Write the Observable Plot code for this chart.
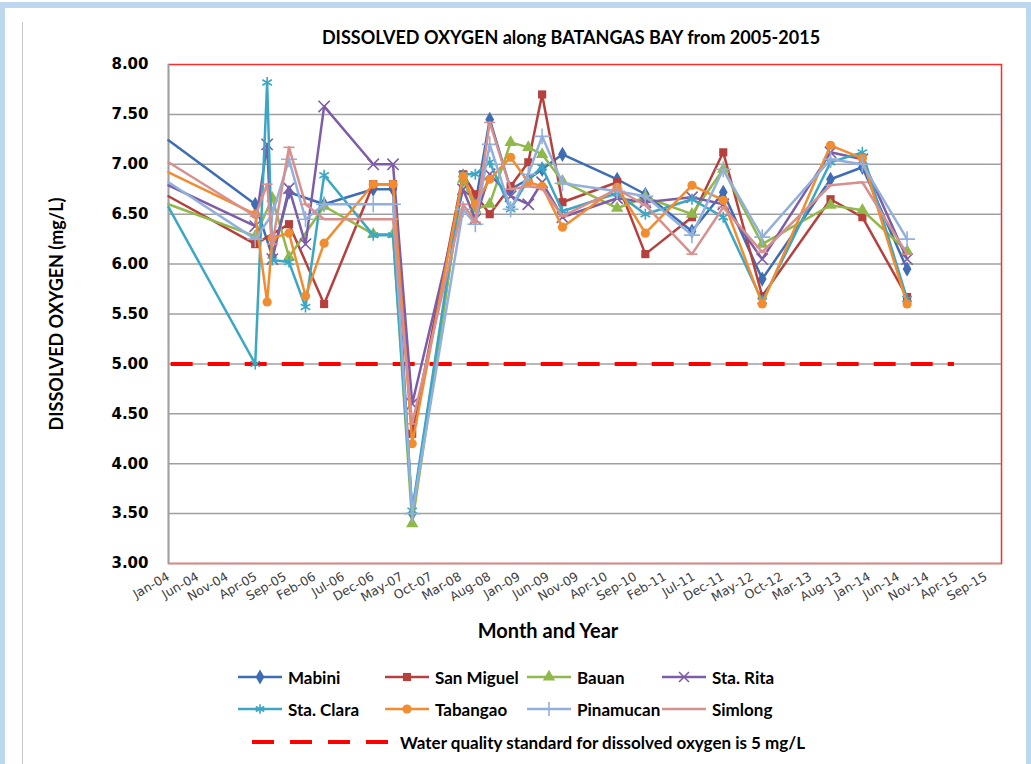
<!DOCTYPE html>
<html><head><meta charset="utf-8">
<script src="https://cdn.jsdelivr.net/npm/d3@7"></script>
<script src="https://cdn.jsdelivr.net/npm/@observablehq/plot@0.6"></script>
<style>
body{margin:0;background:#fff;}
#page{position:relative;width:1031px;height:764px;overflow:hidden;background:#fff;font-family:Lato,"Open Sans",sans-serif;}
.band{position:absolute;background:#BDD7EE;}
#title{position:absolute;top:26px;left:571px;transform:translateX(-50%);white-space:nowrap;font-weight:bold;font-size:18px;color:#000;}
#chart{position:absolute;left:0;top:0;}
#legend{position:absolute;left:0;top:0;width:1031px;height:764px;pointer-events:none;}
.item{position:absolute;display:flex;align-items:center;font-weight:bold;font-size:17px;color:#000;white-space:nowrap;}
.item svg{margin-right:6px;}
</style></head><body>
<div id="page">
  <div class="band" style="left:0;top:2px;width:1031px;height:6px;"></div>
  <div class="band" style="left:0;top:2px;width:5px;height:762px;"></div>
  <div class="band" style="left:1026px;top:2px;width:5px;height:762px;"></div>
  <div style="position:absolute;left:22px;top:22px;width:1px;height:742px;background:#C8C8C8;"></div>
  <div id="chart"></div>
  <div id="title"></div>
  <div id="legend"></div>
</div>
<script>
// ---- data ----
const sampleDates = ["2004-01-01","2005-03-28","2005-05-29","2005-06-25","2005-09-20","2005-12-15","2006-03-22","2006-12-03","2007-03-16","2007-06-24","2008-03-15","2008-05-18","2008-08-01","2008-11-18","2009-02-18","2009-05-01","2009-08-15","2010-05-27","2010-10-21","2011-06-21","2011-12-01","2012-06-21","2013-06-12","2013-11-25","2014-07-16"];
const seriesNames = ["Mabini","San Miguel","Bauan","Sta. Rita","Sta. Clara","Tabangao","Pinamucan","Simlong"];
const mabini     = [7.24,6.60,null,6.08,6.72,null,6.60,6.75,6.75,3.50,6.85,6.60,7.45,6.75,6.85,6.95,7.10,6.85,6.70,6.33,6.72,5.85,6.85,6.97,5.95];
const sanMiguel  = [6.68,6.20,null,null,6.40,null,5.60,6.80,6.80,4.30,6.90,6.70,6.50,6.78,7.02,7.70,6.62,6.82,6.10,6.47,7.12,5.68,6.65,6.47,5.67];
const bauan      = [6.60,6.28,null,6.66,6.07,null,6.58,6.30,6.30,3.40,6.85,6.55,6.60,7.22,7.17,7.10,6.83,6.56,6.67,6.50,6.95,6.20,6.59,6.54,6.13];
const staRita    = [6.79,6.38,7.20,6.05,6.76,6.20,7.58,7.00,7.00,4.60,6.75,6.45,6.90,6.68,6.60,6.82,6.47,6.66,6.62,6.67,6.60,6.05,7.12,7.05,6.05];
const staClara   = [6.57,5.00,7.82,6.04,6.02,5.57,6.89,6.29,6.29,3.53,6.90,6.90,7.02,6.55,6.85,6.97,6.53,6.71,6.50,6.65,6.47,5.63,7.02,7.12,5.65];
const tabangao   = [6.92,6.50,5.62,6.26,6.31,5.68,6.21,6.80,6.80,4.20,6.88,6.60,6.85,7.07,6.82,6.78,6.37,6.77,6.31,6.79,6.64,5.60,7.19,7.06,5.60];
const pinamucan  = [6.82,6.25,null,6.50,7.05,6.45,6.60,6.60,6.60,3.50,6.55,6.40,7.20,6.55,6.90,7.28,6.81,6.73,6.68,6.29,6.95,6.27,7.05,7.00,6.25];
const simlong    = [7.02,6.48,6.80,6.20,7.17,6.60,6.45,6.45,6.45,4.40,6.60,6.42,7.42,6.75,6.78,6.76,6.48,6.75,6.59,6.10,6.57,6.12,6.79,6.82,6.10];
const seriesValues = [mabini,sanMiguel,bauan,staRita,staClara,tabangao,pinamucan,simlong];
const seriesColors = ["#3E6DB5","#B5403D","#90B84A","#7D5DA8","#3BA7C5","#F28C30","#93B0DC","#D8908E"];
const standardValue = 5;
const standardSpan = ["2004-01-15","2015-03-20"];
const yTicks = [3,3.5,4,4.5,5,5.5,6,6.5,7,7.5,8];
const xTickLabels = ["Jan-04","Jun-04","Nov-04","Apr-05","Sep-05","Feb-06","Jul-06","Dec-06","May-07","Oct-07","Mar-08","Aug-08","Jan-09","Jun-09","Nov-09","Apr-10","Sep-10","Feb-11","Jul-11","Dec-11","May-12","Oct-12","Mar-13","Aug-13","Jan-14","Jun-14","Nov-14","Apr-15","Sep-15"];
const xDomain = ["2004-01-01","2015-11-20"];
const yDomain = [3,8];
const titleText = "DISSOLVED OXYGEN along BATANGAS BAY from 2005-2015";
const yLabel = "DISSOLVED OXYGEN (mg/L)";
const xLabel = "Month and Year";
const standardLabel = "Water quality standard for dissolved oxygen is 5 mg/L";

// ---- symbols ----
const dash = {draw(ctx, size){const w = Math.sqrt(size)*0.6; ctx.moveTo(-w,0); ctx.lineTo(w,0);}};
const seriesSymbols = [d3.symbolDiamond, d3.symbolSquare, d3.symbolTriangle, d3.symbolTimes, d3.symbolAsterisk, d3.symbolCircle, d3.symbolPlus, dash];
const seriesFilled = [true,true,true,false,false,true,false,false];

const parseDay = d3.utcParse("%Y-%m-%d");
const parseTick = d3.utcParse("%b-%y");
const xTicks = xTickLabels.map(parseTick);
const firstDate = parseDay(sampleDates[0]);

const rows = seriesNames.flatMap((name, si) =>
  seriesValues[si].map((v, i) => ({name, date: parseDay(sampleDates[i]), value: v})).filter(d => d.value != null));

const marks = [
  Plot.frame({stroke: "#FF2A2A", strokeWidth: 1.5}),
  Plot.gridY(yTicks.filter(t => t > yDomain[0] && t < yDomain[1]), {stroke: "#A0A0A0", strokeOpacity: 1, strokeWidth: 1.5}),
  Plot.ruleY([yDomain[0]], {stroke: "#A0A0A0", strokeWidth: 1.5}),
  Plot.ruleX([parseDay(xDomain[0])], {stroke: "#A0A0A0", strokeWidth: 1.5}),
  Plot.ruleY([{v: standardValue, a: parseDay(standardSpan[0]), b: parseDay(standardSpan[1])}],
    {y: "v", x1: "a", x2: "b", stroke: "#FF0000", strokeWidth: 4, strokeDasharray: "22,15"})
];
seriesNames.forEach((name, si) => {
  const data = rows.filter(d => d.name === name);
  marks.push(Plot.line(data, {x: "date", y: "value", stroke: seriesColors[si], strokeWidth: 2.5}));
  const pts = data.filter(d => d.date > firstDate);
  if (seriesFilled[si]) {
    marks.push(Plot.dot(pts, {x: "date", y: "value", symbol: seriesSymbols[si], fill: seriesColors[si], r: 4.6}));
  } else {
    marks.push(Plot.dot(pts, {x: "date", y: "value", symbol: seriesSymbols[si], stroke: seriesColors[si], strokeWidth: 1.6, r: 5.2}));
  }
});
marks.push(
  Plot.axisY(yTicks, {tickFormat: d3.format(".2f"), tickSize: 0, tickPadding: 20, fontSize: 15, fontWeight: "bold", fontFamily: "DejaVu Sans", fill: "#000", label: null}),
  Plot.axisX(xTicks, {tickFormat: d3.utcFormat("%b-%y"), tickRotate: -30, tickSize: 0, tickPadding: 12, fontSize: 12.5, fontFamily: "DejaVu Sans", fill: "#404040", label: null}),
  Plot.text([yLabel], {frameAnchor: "left", textAnchor: "middle", dx: -111, rotate: -90, fontSize: 18, fontWeight: "bold", fontFamily: "Lato", fill: "#000"}),
  Plot.text([xLabel], {frameAnchor: "bottom", textAnchor: "middle", dx: -37, dy: 74, fontSize: 20, fontWeight: "bold", fontFamily: "Lato", fill: "#000"})
);

const chart = Plot.plot({
  width: 1031, height: 650,
  marginTop: 64, marginBottom: 87, marginLeft: 168, marginRight: 30,
  x: {type: "utc", domain: xDomain.map(parseDay)},
  y: {domain: yDomain},
  style: {background: "transparent", overflow: "visible"},
  marks
});
document.getElementById("chart").appendChild(chart);
document.getElementById("title").textContent = titleText;

// ---- legend ----
const legend = document.getElementById("legend");
const legendPos = [[238,677],[385,677],[527,677],[662,677],[238,709],[385,709],[527,709],[662,709]];
seriesNames.forEach((name, si) => {
  const div = document.createElement("div");
  div.className = "item";
  div.style.left = legendPos[si][0] + "px";
  div.style.top = (legendPos[si][1] - 11) + "px";
  const svg = d3.create("svg").attr("width", 44).attr("height", 22);
  svg.append("line").attr("x1", 0).attr("x2", 44).attr("y1", 11).attr("y2", 11).attr("stroke", seriesColors[si]).attr("stroke-width", 2.5);
  const p = svg.append("path").attr("transform", "translate(22,11)")
    .attr("d", d3.symbol(seriesSymbols[si], Math.PI * 4.6 * 4.6)());
  if (seriesFilled[si]) p.attr("fill", seriesColors[si]);
  else p.attr("fill", "none").attr("stroke", seriesColors[si]).attr("stroke-width", 1.6);
  div.appendChild(svg.node());
  div.appendChild(document.createTextNode(name));
  legend.appendChild(div);
});
{
  const div = document.createElement("div");
  div.className = "item";
  div.style.left = "252px";
  div.style.top = (742 - 11) + "px";
  const svg = d3.create("svg").attr("width", 140).attr("height", 22);
  svg.append("line").attr("x1", 0).attr("x2", 136).attr("y1", 11).attr("y2", 11).attr("stroke", "#FF0000").attr("stroke-width", 4).attr("stroke-dasharray", "22,16");
  svg.style("margin-right", "8px");
  div.appendChild(svg.node());
  div.appendChild(document.createTextNode(standardLabel));
  legend.appendChild(div);
}
</script>
</body></html>
